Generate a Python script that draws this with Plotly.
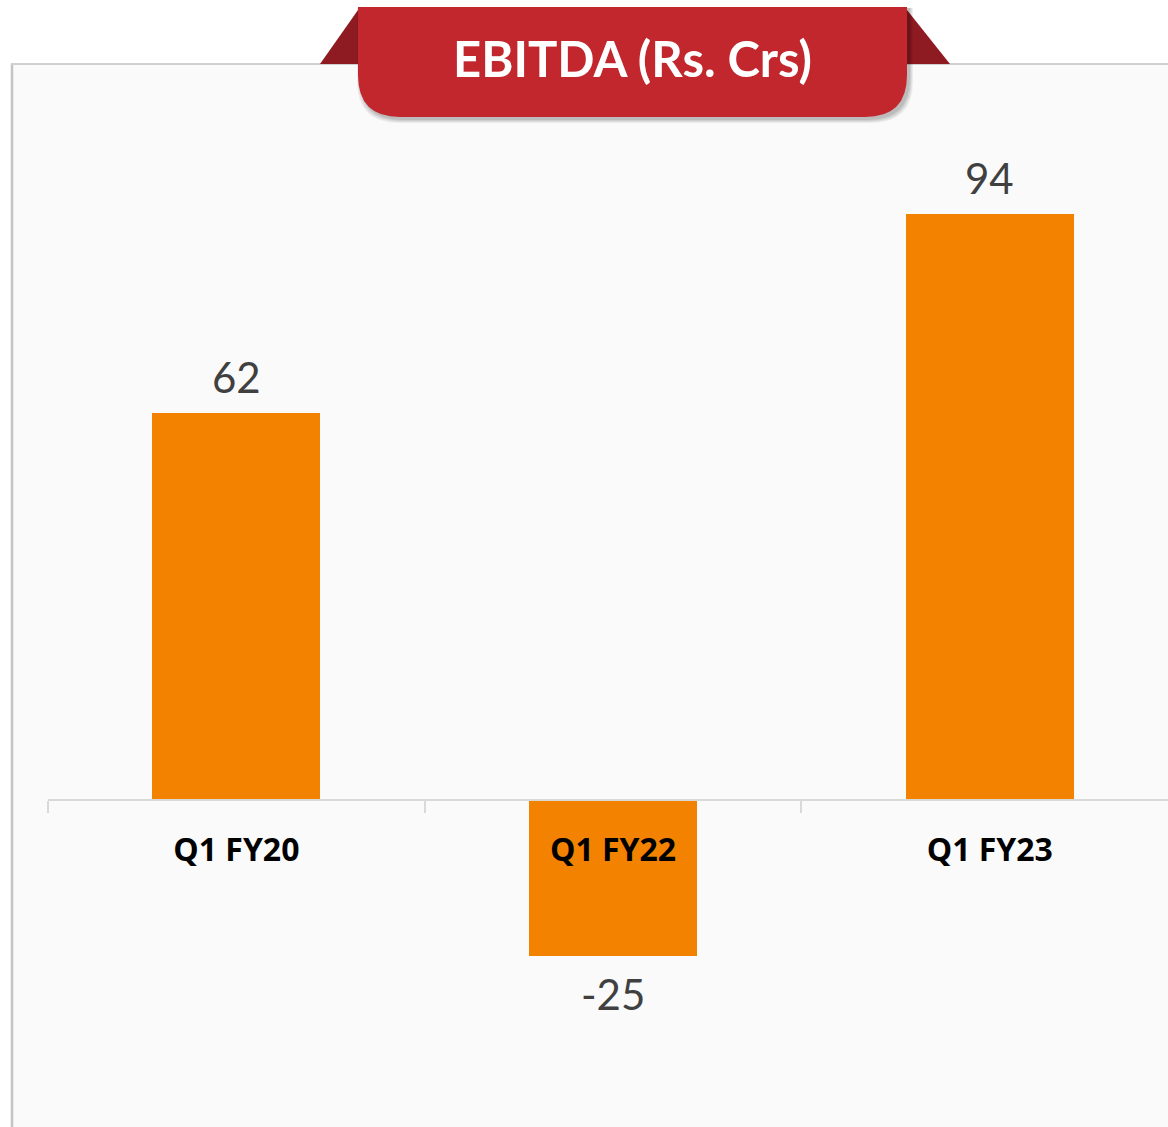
import plotly.graph_objects as go

categories = ["Q1 FY20", "Q1 FY22", "Q1 FY23"]
ebitda = [62, -25, 94]
title_text = "EBITDA (Rs. Crs)"

W, H = 1168, 1127
ML, MR, MT, MB = 48, 0, 130, 27
PW, PH = W - ML - MR, H - MT - MB

def px(x):
    return (x - ML) / PW

def py(y):
    return (H - MB - y) / PH

BAR = "#F38200"
RED = "#C1272D"
DARK = "#8E1B22"

fig = go.Figure()
fig.add_trace(go.Bar(x=categories, y=ebitda, marker=dict(color=BAR, line=dict(width=0)),
                     width=0.4456, hoverinfo="skip"))

for c, v in zip(categories, ebitda):
    fig.add_annotation(x=c, y=v, text=str(v), showarrow=False,
                       yshift=36 if v >= 0 else -38,
                       font=dict(family="Lato", size=42, color="#404040"))

shapes = []
# panel
shapes.append(dict(type="rect", xref="paper", yref="paper", x0=px(11), x1=px(1170),
                   y0=py(1130), y1=py(64), fillcolor="#FAFAFA", line=dict(width=0), layer="below"))
shapes.append(dict(type="line", xref="paper", yref="paper", x0=px(12), x1=px(12),
                   y0=py(1130), y1=py(64), line=dict(color="#C4C4C4", width=2.5), layer="below"))
shapes.append(dict(type="line", xref="paper", yref="paper", x0=px(11), x1=px(1170),
                   y0=py(64), y1=py(64), line=dict(color="#D0D0D0", width=2), layer="below"))

# ribbon folds
def path(pts):
    return "M " + " L ".join(f"{px(a)},{py(b)}" for a, b in pts) + " Z"

shapes.append(dict(type="path", xref="paper", yref="paper",
                   path=path([(320, 64), (358, 64), (358, 10)]), fillcolor=DARK, line=dict(width=0)))
shapes.append(dict(type="path", xref="paper", yref="paper",
                   path=path([(907, 10), (950, 64), (907, 64)]), fillcolor=DARK, line=dict(width=0)))

def rounded(x0, x1, y0, y1, r):
    p = (f"M {px(x0)},{py(y0)} L {px(x1)},{py(y0)} L {px(x1)},{py(y1 - r)} "
         f"Q {px(x1)},{py(y1)} {px(x1 - r)},{py(y1)} L {px(x0 + r)},{py(y1)} "
         f"Q {px(x0)},{py(y1)} {px(x0)},{py(y1 - r)} Z")
    return p

for i, op in enumerate([0.06, 0.06, 0.07, 0.08]):
    d = 4 - i
    shapes.append(dict(type="path", xref="paper", yref="paper",
                       path=rounded(358 - d + 3, 907 + d + 2, 8, 117 + d + 2, 42),
                       fillcolor=f"rgba(0,0,0,{op})", line=dict(width=0)))
shapes.append(dict(type="path", xref="paper", yref="paper",
                   path=rounded(358, 907, 7, 117, 42), fillcolor=RED, line=dict(width=0)))

fig.add_annotation(xref="paper", yref="paper", x=px(632), y=py(58), text=title_text,
                   xanchor="center", yanchor="middle",
                   showarrow=False, font=dict(family="Lato", size=49, color="white", weight="bold"))

ymin, ymax = -(H - MB - 800) / 6.237, (800 - MT) / 6.237
zero_pos = (H - MB - 800) / PH

fig.update_layout(
    width=W, height=H, margin=dict(l=ML, r=MR, t=MT, b=MB, pad=0),
    paper_bgcolor="white", plot_bgcolor="rgba(0,0,0,0)",
    shapes=shapes, showlegend=False, bargap=0,
    xaxis=dict(range=[-0.5, -0.5 + PW / 376.7], anchor="free", position=zero_pos,
               showline=True, linecolor="#D9D9D9", linewidth=2,
               ticks="outside", tickson="boundaries", ticklen=12, tickcolor="#D9D9D9", tickwidth=2,
               showgrid=False, zeroline=False, ticklabelstandoff=22,
               tickfont=dict(family="Open Sans", size=32, color="black", weight="bold"),
               fixedrange=True),
    yaxis=dict(range=[ymin, ymax], visible=False, showgrid=False, zeroline=False, fixedrange=True),
)

fig.write_html("out.html")
